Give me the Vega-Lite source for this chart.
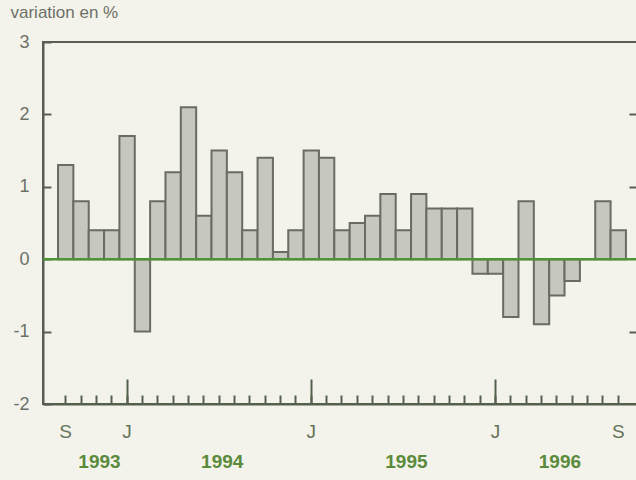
{
  "$schema": "https://vega.github.io/schema/vega-lite/v6.json",
  "width": 594,
  "height": 362,
  "autosize": {"type": "none"},
  "padding": {"left": 43, "top": 42, "right": 0, "bottom": 76},
  "background": "#f3f3ec",
  "config": {
    "font": "Liberation Sans",
    "view": {"stroke": "#5a5c55", "strokeWidth": 2},
    "axis": {"grid": false}
  },
  "datasets": {
    "cpi": [
      {"month": "1993-09", "value": 1.3},
      {"month": "1993-10", "value": 0.8},
      {"month": "1993-11", "value": 0.4},
      {"month": "1993-12", "value": 0.4},
      {"month": "1994-01", "value": 1.7},
      {"month": "1994-02", "value": -1.0},
      {"month": "1994-03", "value": 0.8},
      {"month": "1994-04", "value": 1.2},
      {"month": "1994-05", "value": 2.1},
      {"month": "1994-06", "value": 0.6},
      {"month": "1994-07", "value": 1.5},
      {"month": "1994-08", "value": 1.2},
      {"month": "1994-09", "value": 0.4},
      {"month": "1994-10", "value": 1.4},
      {"month": "1994-11", "value": 0.1},
      {"month": "1994-12", "value": 0.4},
      {"month": "1995-01", "value": 1.5},
      {"month": "1995-02", "value": 1.4},
      {"month": "1995-03", "value": 0.4},
      {"month": "1995-04", "value": 0.5},
      {"month": "1995-05", "value": 0.6},
      {"month": "1995-06", "value": 0.9},
      {"month": "1995-07", "value": 0.4},
      {"month": "1995-08", "value": 0.9},
      {"month": "1995-09", "value": 0.7},
      {"month": "1995-10", "value": 0.7},
      {"month": "1995-11", "value": 0.7},
      {"month": "1995-12", "value": -0.2},
      {"month": "1996-01", "value": -0.2},
      {"month": "1996-02", "value": -0.8},
      {"month": "1996-03", "value": 0.8},
      {"month": "1996-04", "value": -0.9},
      {"month": "1996-05", "value": -0.5},
      {"month": "1996-06", "value": -0.3},
      {"month": "1996-07", "value": 0.0},
      {"month": "1996-08", "value": 0.8},
      {"month": "1996-09", "value": 0.4}
    ],
    "years": [
      {"year": "1993", "month": "1993-11"},
      {"year": "1994", "month": "1994-07"},
      {"year": "1995", "month": "1995-07"},
      {"year": "1996", "month": "1996-05"}
    ],
    "zero": [{"value": 0}]
  },
  "resolve": {"axis": {"x": "independent", "y": "independent"}},
  "layer": [
    {
      "data": {"name": "cpi"},
      "mark": {"type": "bar", "fill": "#c6c7be", "stroke": "#6a6b64", "strokeWidth": 2},
      "encoding": {
        "x": {
          "field": "month",
          "type": "ordinal",
          "scale": {"paddingInner": 0, "paddingOuter": 0.85, "align": 0.576},
          "axis": {
            "title": null,
            "labelAngle": 0,
            "labelOverlap": false,
            "labelExpr": "substring(datum.value,5,7)=='01' ? 'J' : ((datum.value=='1993-09' || datum.value=='1996-09') ? 'S' : '')",
            "domainColor": "#55604c",
            "domainWidth": 2,
            "tickColor": "#55604c",
            "tickWidth": 2,
            "tickSize": -9,
            "labelFontSize": 19,
            "labelColor": "#66735a",
            "labelPadding": 36,
            "labelBaseline": "middle"
          }
        },
        "y": {
          "field": "value",
          "type": "quantitative",
          "scale": {"domain": [-2, 3], "nice": false, "zero": false},
          "axis": {
            "values": [-2, -1, 0, 1, 2, 3],
            "labelExpr": "'' + datum.value",
            "tickSize": -8,
            "tickWidth": 2,
            "tickColor": "#5a5c55",
            "domainColor": "#5a5c55",
            "domainWidth": 2,
            "labelFontSize": 18,
            "labelColor": "#6d7066",
            "labelPadding": 22,
            "title": "variation en %",
            "titleAngle": 0,
            "titleAlign": "left",
            "titleBaseline": "middle",
            "titleX": -33,
            "titleY": -30,
            "titleFontSize": 17,
            "titleFontWeight": "normal",
            "titleColor": "#6d7066"
          }
        }
      }
    },
    {
      "data": {"name": "zero"},
      "mark": {"type": "rule", "color": "#4e9436", "strokeWidth": 2.5},
      "encoding": {
        "y": {
          "field": "value",
          "type": "quantitative",
          "axis": {
            "orient": "right",
            "values": [-1, 1, 2],
            "labels": false,
            "domain": false,
            "title": null,
            "tickSize": -8,
            "tickWidth": 2,
            "tickColor": "#5a5c55"
          }
        }
      }
    },
    {
      "data": {"name": "years"},
      "mark": {"type": "text", "fontSize": 19, "fontWeight": "bold", "color": "#5a8a3a", "baseline": "middle", "dy": 58},
      "encoding": {
        "x": {
          "field": "month",
          "type": "ordinal",
          "bandPosition": 0.7,
          "axis": {
            "orient": "bottom",
            "values": ["1994-01", "1995-01", "1996-01"],
            "labels": false,
            "domain": false,
            "title": null,
            "tickSize": -25,
            "tickWidth": 2,
            "tickColor": "#55604c"
          }
        },
        "y": {"datum": -2, "type": "quantitative", "axis": null},
        "text": {"field": "year"}
      }
    }
  ]
}
